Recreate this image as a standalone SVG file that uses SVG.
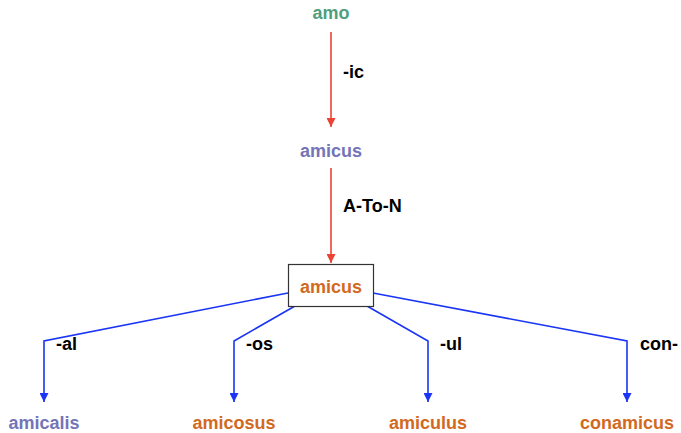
<svg xmlns="http://www.w3.org/2000/svg" width="681" height="433" viewBox="0 0 681 433">
  <style>
    text { font-family: "Liberation Sans", Arial, Helvetica, sans-serif; font-weight: bold; }
    .node { font-size: 18px; text-anchor: middle; }
    .green { fill: #4f9e7e; }
    .purple { fill: #7474b8; }
    .orange { fill: #d2691e; }
    .lbl { font-size: 18px; fill: #000; }
    .red { stroke: #ea4335; stroke-width: 1.6; fill: none; }
    .blue { stroke: #1a35f5; stroke-width: 1.6; fill: none; }
  </style>
  <defs>
    <marker id="arrRed" viewBox="0 0 10 10" refX="10" refY="5" markerWidth="9" markerHeight="9" markerUnits="userSpaceOnUse" orient="auto">
      <path d="M0,0 L10,5 L0,10 z" fill="#ea4335"/>
    </marker>
    <marker id="arrBlue" viewBox="0 0 10 10" refX="10" refY="5" markerWidth="9" markerHeight="9" markerUnits="userSpaceOnUse" orient="auto">
      <path d="M0,0 L10,5 L0,10 z" fill="#1a35f5"/>
    </marker>
  </defs>

  <g id="connectors">
    <path class="red" d="M331,32 L331,127" marker-end="url(#arrRed)"/>
    <path class="red" d="M331,168 L331,263" marker-end="url(#arrRed)"/>
    <path class="blue" d="M288,293 L44,341 L44,402" marker-end="url(#arrBlue)"/>
    <path class="blue" d="M295,306 L234,341 L234,402" marker-end="url(#arrBlue)"/>
    <path class="blue" d="M367,306 L428,341 L428,402" marker-end="url(#arrBlue)"/>
    <path class="blue" d="M373,293 L627,341 L627,402" marker-end="url(#arrBlue)"/>
    <text class="lbl" x="343" y="78">-ic</text>
    <text class="lbl" x="343" y="212">A-To-N</text>
    <text class="lbl" x="56" y="350">-al</text>
    <text class="lbl" x="246" y="350">-os</text>
    <text class="lbl" x="440" y="350">-ul</text>
    <text class="lbl" x="640" y="350">con-</text>
  </g>

  <g id="amo"><text class="node green" x="331" y="19">amo</text></g>
  <g id="amicus-adj"><text class="node purple" x="331" y="157">amicus</text></g>
  <g id="amicus-noun">
    <rect x="288.5" y="264.5" width="85" height="42" fill="#fff" stroke="#333" stroke-width="1.2"/>
    <text class="node orange" x="331" y="293">amicus</text>
  </g>
  <g id="amicalis"><text class="node purple" x="44" y="429">amicalis</text></g>
  <g id="amicosus"><text class="node orange" x="234" y="429">amicosus</text></g>
  <g id="amiculus"><text class="node orange" x="428" y="429">amiculus</text></g>
  <g id="conamicus"><text class="node orange" x="627" y="429">conamicus</text></g>
</svg>
